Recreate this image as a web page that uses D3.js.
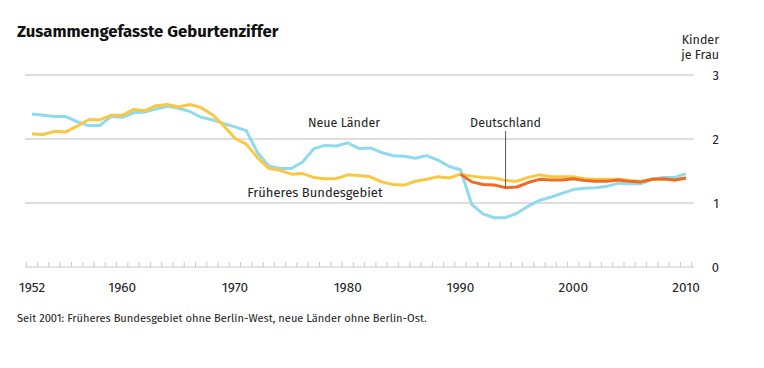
<!DOCTYPE html>
<html><head><meta charset="utf-8">
<script src="https://cdn.jsdelivr.net/npm/d3@7"></script>
<style>
body{margin:0;background:#fff;}
text{font-family:"Fira Sans","Open Sans","Noto Sans",sans-serif;}
</style></head>
<body><svg id="c" width="764" height="368"></svg>
<script>
const years = d3.range(1952, 2011);
const westValues = [2.08,2.07,2.12,2.11,2.20,2.30,2.30,2.37,2.37,2.46,2.44,2.52,2.54,2.50,2.54,2.49,2.38,2.21,2.01,1.92,1.71,1.54,1.51,1.45,1.46,1.40,1.38,1.38,1.44,1.43,1.41,1.33,1.29,1.28,1.34,1.37,1.41,1.39,1.45,1.42,1.40,1.39,1.35,1.34,1.40,1.44,1.41,1.41,1.41,1.38,1.37,1.37,1.37,1.35,1.34,1.37,1.37,1.36,1.39];
const eastValues = [2.39,2.37,2.35,2.35,2.27,2.21,2.21,2.35,2.34,2.41,2.42,2.47,2.51,2.48,2.43,2.34,2.30,2.24,2.19,2.13,1.79,1.58,1.54,1.54,1.64,1.85,1.90,1.89,1.94,1.85,1.86,1.79,1.74,1.73,1.70,1.74,1.67,1.57,1.52,0.98,0.83,0.77,0.77,0.84,0.95,1.04,1.09,1.15,1.21,1.23,1.24,1.26,1.31,1.30,1.30,1.37,1.40,1.40,1.46];
const germanyYears = d3.range(1990, 2011);
const germanyValues = [1.45,1.33,1.29,1.28,1.24,1.25,1.32,1.37,1.36,1.36,1.38,1.35,1.34,1.34,1.36,1.34,1.33,1.37,1.38,1.36,1.39];
const xTickLabels = [1952,1960,1970,1980,1990,2000,2010];
const yTicks = [0,1,2,3];

const svg = d3.select("#c");
const x = d3.scaleLinear().domain([1952,2010]).range([32,686]);
const y = d3.scaleLinear().domain([0,3]).range([267,75]);

svg.append("text").attr("x",17).attr("y",37).attr("font-size",16.7).attr("font-weight","bold").attr("fill","#111").text("Zusammengefasste Geburtenziffer");

svg.selectAll(".grid").data(yTicks.filter(d=>d>0)).join("line")
  .attr("x1",25).attr("x2",694).attr("y1",d=>y(d)).attr("y2",d=>y(d))
  .attr("stroke","#bdbdbd").attr("stroke-width",1.2);
svg.append("line").attr("x1",25).attr("x2",694).attr("y1",y(0)).attr("y2",y(0)).attr("stroke","#c8c8c8").attr("stroke-width",1.2);
const tickYears = d3.range(1951.5, 2011, 1);
svg.selectAll(".tk").data(tickYears).join("line")
  .attr("x1",d=>x(d)).attr("x2",d=>x(d)).attr("y1",y(0)).attr("y2",y(0)-5)
  .attr("stroke","#c8c8c8").attr("stroke-width",1);

svg.selectAll(".xl").data(xTickLabels).join("text")
  .attr("x",d=>x(d)).attr("y",292).attr("text-anchor","middle").attr("font-size",13.6).attr("fill","#222").text(d=>d);
svg.selectAll(".yl").data(yTicks).join("text")
  .attr("x",719).attr("y",d=>y(d)+5).attr("text-anchor","end").attr("font-size",13).attr("fill","#222").text(d=>d);
svg.append("text").attr("x",719).attr("y",44).attr("text-anchor","end").attr("font-size",12.5).attr("fill","#222").text("Kinder");
svg.append("text").attr("x",719).attr("y",59).attr("text-anchor","end").attr("font-size",12.5).attr("fill","#222").text("je Frau");

const line = d3.line().x(d=>x(d[0])).y(d=>y(d[1]));
svg.append("path").datum(years.map((yr,i)=>[yr,eastValues[i]])).attr("d",line)
  .attr("fill","none").attr("stroke","#8fdaec").attr("stroke-width",3).attr("stroke-linejoin","round");
svg.append("path").datum(years.map((yr,i)=>[yr,westValues[i]])).attr("d",line)
  .attr("fill","none").attr("stroke","#f9c843").attr("stroke-width",3).attr("stroke-linejoin","round");
svg.append("path").datum(germanyYears.map((yr,i)=>[yr,germanyValues[i]])).attr("d",line)
  .attr("fill","none").attr("stroke","#ee6a25").attr("stroke-width",3).attr("stroke-linejoin","round");

svg.append("line").attr("x1",x(1994)).attr("x2",x(1994)).attr("y1",131).attr("y2",y(1.24))
  .attr("stroke","#555").attr("stroke-width",1);
svg.append("text").attr("x",x(1994)).attr("y",127).attr("text-anchor","middle").attr("font-size",12.5).attr("fill","#222").text("Deutschland");
svg.append("text").attr("x",344).attr("y",127).attr("text-anchor","middle").attr("font-size",12.5).attr("fill","#222").text("Neue Länder");
svg.append("text").attr("x",315).attr("y",197).attr("text-anchor","middle").attr("font-size",13).attr("fill","#222").text("Früheres Bundesgebiet");

svg.append("text").attr("x",17).attr("y",322).attr("font-size",11.1).attr("fill","#222").text("Seit 2001: Früheres Bundesgebiet ohne Berlin-West, neue Länder ohne Berlin-Ost.");
</script></body></html>
